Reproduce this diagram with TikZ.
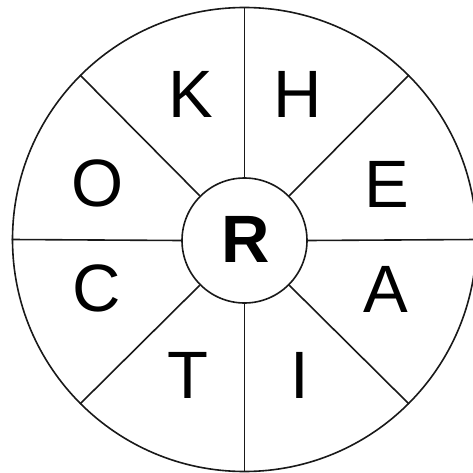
\documentclass[tikz,border=0pt]{standalone}
\usepackage{fontspec}
\setmainfont{Liberation Sans}
\begin{document}
\begin{tikzpicture}[x=1pt,y=-1pt,
  ring/.style={circle,draw=black!90,line width=1.6pt,inner sep=0pt},
  spoke/.style={draw=black!90,line width=1.6pt},
  letter/.style={anchor=base,inner sep=0pt,font=\fontsize{67}{67}\selectfont}]
\useasboundingbox (0,0) rectangle (473,473);
\node[ring,minimum size=464pt] (rim) at (244.5,239.5) {};
\node[ring,minimum size=125pt,fill=white] (hub) at (244.5,240.5) {};
\foreach \a in {0,45,...,315}{
  \draw[spoke] (hub.\a) -- (rim.\a);
}
\node[letter] (k) at (190.5,118) {K};
\node[letter] (h) at (298,118) {H};
\node[letter] (o) at (97.5,206) {O};
\node[letter] (e) at (387,207) {E};
\node[letter] (c) at (96.5,311) {C};
\node[letter] (a) at (385.7,312) {A};
\node[letter] (t) at (188,398) {T};
\node[letter] (i) at (299.5,398) {I};
\node[letter,font=\fontsize{67}{67}\selectfont\bfseries] (r) at (245.5,262) {R};
\end{tikzpicture}
\end{document}
